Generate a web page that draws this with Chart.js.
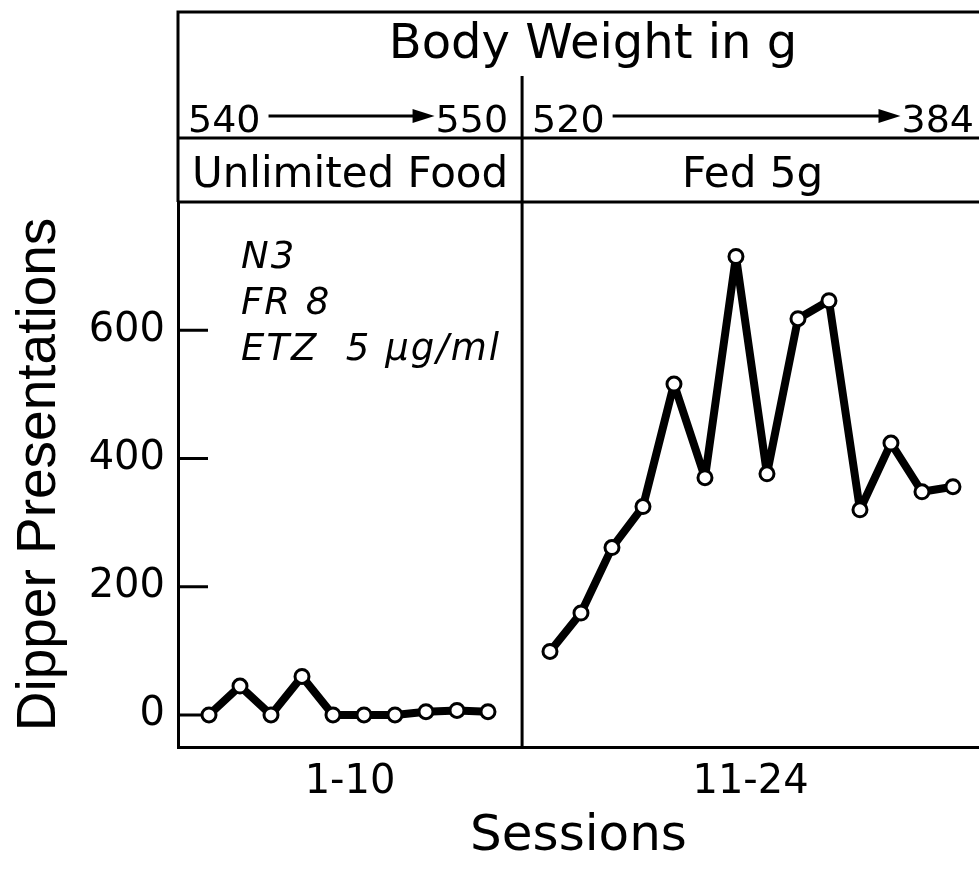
<!DOCTYPE html>
<html>
<head>
<meta charset="utf-8">
<script src="https://cdn.jsdelivr.net/npm/chart.js@4.4.1/dist/chart.umd.min.js"></script>
<style>
  html, body { margin: 0; padding: 0; background: #fff; overflow: hidden; }
</style>
</head>
<body>
<canvas id="chart" width="979" height="871"></canvas>
<script>
// Valeurs (présentations du distributeur par séance)
const sessionsUnlimited = [1, 2, 3, 4, 5, 6, 7, 8, 9, 10];
const dipperUnlimited = [0, 45, 0, 60, 0, 0, 0, 5, 7, 5];
const sessionsFed = [11, 12, 13, 14, 15, 16, 17, 18, 19, 20, 21, 22, 23, 24];
const dipperFed = [99, 159, 261, 325, 516, 370, 715, 376, 618, 646, 320, 424, 348, 356];

const yTicks = [0, 200, 400, 600];
const sessionLabels = ['1-10', '11-24'];
const conditionLabels = ['Unlimited Food', 'Fed 5g'];
const weightStart = ['540', '520'];
const weightEnd = ['550', '384'];
const noteLines = ['N3', 'FR 8', 'ETZ  5 \u00b5g/ml'];

// une case vide entre les deux phases
const xPos = s => s + (s > 10 ? 1 : 0);
const panelSplit = 11.1;
const xMax = 25.84;

const FONT = '"DejaVu Sans", sans-serif';

function arrow(ctx, x1, x2, y) {
  ctx.beginPath();
  ctx.lineWidth = 3;
  ctx.moveTo(x1, y);
  ctx.lineTo(x2 - 14, y);
  ctx.stroke();
  ctx.beginPath();
  ctx.moveTo(x2, y);
  ctx.lineTo(x2 - 22, y - 7);
  ctx.lineTo(x2 - 22, y + 7);
  ctx.closePath();
  ctx.fill();
}

// Cadre du haut, séparation des phases, graduations internes et textes
const framePlugin = {
  id: 'frame',
  beforeDatasetsDraw(chart) {
    const { ctx, chartArea: a, scales: { x, y } } = chart;
    const divX = x.getPixelForValue(panelSplit);
    const right = chart.width + 40;
    ctx.save();
    ctx.strokeStyle = '#000';
    ctx.fillStyle = '#000';
    ctx.lineWidth = 3;
    ctx.beginPath();
    ctx.moveTo(a.left, a.top);
    ctx.lineTo(a.left, 12);
    ctx.lineTo(right, 12);
    ctx.moveTo(a.left, 138);
    ctx.lineTo(right, 138);
    ctx.moveTo(a.left, a.top);
    ctx.lineTo(right, a.top);
    ctx.moveTo(divX, 76);
    ctx.lineTo(divX, a.bottom);
    yTicks.forEach(v => {
      const py = y.getPixelForValue(v);
      ctx.moveTo(a.left, py);
      ctx.lineTo(a.left + 30, py);
    });
    ctx.stroke();

    // titre
    ctx.textAlign = 'center';
    ctx.textBaseline = 'alphabetic';
    ctx.font = '48px ' + FONT;
    ctx.fillText('Body Weight in g', 593, 58);

    // poids début -> fin
    ctx.font = '38px ' + FONT;
    const panels = [[a.left, divX], [divX, chart.width]];
    panels.forEach(([l, r], i) => {
      const x0 = l + 10;
      const x3 = r - (i === 0 ? 14 : 5);
      ctx.textAlign = 'left';
      ctx.fillText(weightStart[i], x0, 132);
      const w1 = ctx.measureText(weightStart[i]).width;
      ctx.textAlign = 'right';
      ctx.fillText(weightEnd[i], x3, 132);
      const w2 = ctx.measureText(weightEnd[i]).width;
      arrow(ctx, x0 + w1 + 8, x3 - w2 - 1, 116);
    });

    // conditions
    ctx.textAlign = 'center';
    ctx.font = '42px ' + FONT;
    ctx.fillText(conditionLabels[0], (a.left + divX) / 2, 187);
    ctx.fillText(conditionLabels[1], (divX + chart.width) / 2 + 2, 187);

    // annotations
    ctx.textAlign = 'left';
    ctx.font = 'italic 37px ' + FONT;
    ctx.letterSpacing = '2px';
    noteLines.forEach((t, i) => ctx.fillText(t, 241, 268 + i * 46));
    ctx.restore();
  }
};

new Chart(document.getElementById('chart'), {
  type: 'line',
  data: {
    datasets: [
      {
        label: conditionLabels[0],
        data: sessionsUnlimited.map((s, i) => ({ x: xPos(s), y: dipperUnlimited[i] }))
      },
      {
        label: conditionLabels[1],
        data: sessionsFed.map((s, i) => ({ x: xPos(s), y: dipperFed[i] }))
      }
    ]
  },
  options: {
    responsive: false,
    animation: false,
    layout: { autoPadding: false, padding: { top: 202, left: 0, right: 0, bottom: 0 } },
    elements: {
      line: { borderColor: '#000', borderWidth: 8, tension: 0, borderJoinStyle: 'round', borderCapStyle: 'round' },
      point: { radius: 7, borderWidth: 3, borderColor: '#000', backgroundColor: '#fff' }
    },
    plugins: { legend: { display: false }, tooltip: { enabled: false } },
    scales: {
      x: {
        type: 'linear',
        min: 0,
        max: xMax,
        afterFit: s => { s.height = 124; s.paddingLeft = 0; s.paddingRight = 0; },
        afterBuildTicks: s => {
          s.ticks = [{ value: panelSplit / 2 }, { value: (panelSplit + xMax) / 2 }];
        },
        grid: { drawOnChartArea: false, drawTicks: false },
        border: { color: '#000', width: 3 },
        ticks: {
          padding: 12,
          color: '#000',
          font: { family: FONT, size: 40 },
          callback: (v, i) => sessionLabels[i]
        },
        title: {
          display: true,
          text: 'Sessions',
          color: '#000',
          font: { family: FONT, size: 50 },
          padding: { top: 0, bottom: 4 }
        }
      },
      y: {
        min: -50,
        max: 800,
        afterFit: s => { s.width = 178; },
        afterBuildTicks: s => { s.ticks = yTicks.map(v => ({ value: v })); },
        grid: { drawOnChartArea: false, drawTicks: false },
        border: { color: '#000', width: 3 },
        ticks: {
          padding: 13,
          color: '#000',
          font: { family: FONT, size: 40 }
        },
        title: {
          display: true,
          text: 'Dipper Presentations',
          color: '#000',
          font: { family: '"Liberation Sans", sans-serif', size: 55 },
          padding: { top: 7, bottom: 0 }
        }
      }
    }
  },
  plugins: [framePlugin]
});
</script>
</body>
</html>
